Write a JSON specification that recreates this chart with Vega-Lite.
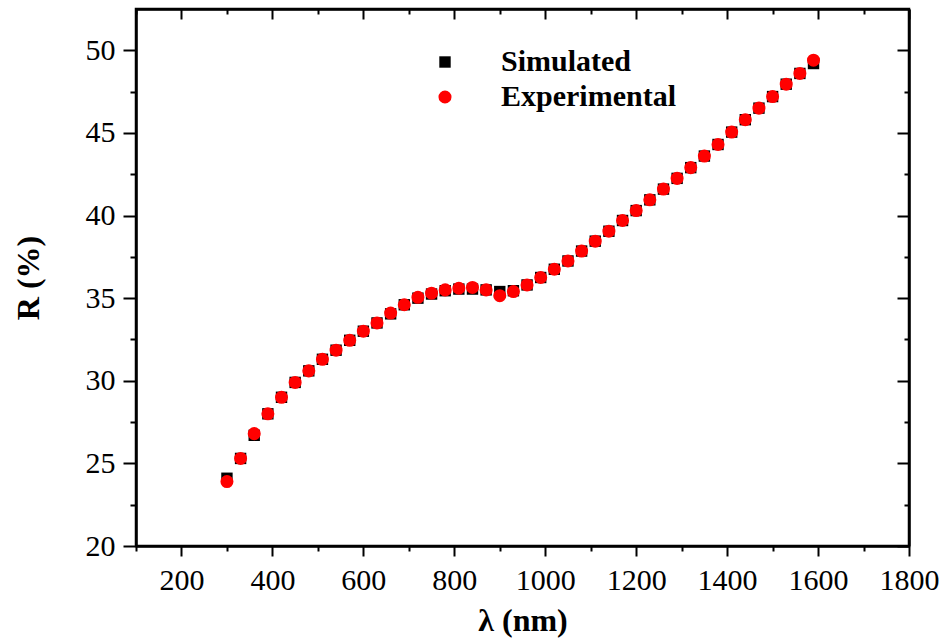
{
  "$schema": "https://vega.github.io/schema/vega-lite/v6.json",
  "width": 773,
  "height": 537,
  "autosize": {"type": "none"},
  "padding": {"left": 136, "top": 9, "right": 42, "bottom": 96},
  "background": "white",
  "config": {
    "view": {"stroke": "black", "strokeWidth": 2.5},
    "font": "Liberation Serif",
    "axis": {
      "domainColor": "black",
      "domainWidth": 2.5,
      "tickColor": "black",
      "tickWidth": 2,
      "labelColor": "black",
      "labelFont": "Liberation Serif",
      "labelFontSize": 30,
      "titleFont": "Liberation Serif",
      "titleFontWeight": "bold",
      "titleFontSize": 32,
      "titleColor": "black",
      "grid": false
    }
  },
  "data": {
    "values": [
      {"wl": 300, "R": 24.1, "series": "Simulated"},
      {"wl": 330, "R": 25.3, "series": "Simulated"},
      {"wl": 360, "R": 26.7, "series": "Simulated"},
      {"wl": 390, "R": 28.0, "series": "Simulated"},
      {"wl": 420, "R": 29.0, "series": "Simulated"},
      {"wl": 450, "R": 29.9, "series": "Simulated"},
      {"wl": 480, "R": 30.6, "series": "Simulated"},
      {"wl": 510, "R": 31.3, "series": "Simulated"},
      {"wl": 540, "R": 31.85, "series": "Simulated"},
      {"wl": 570, "R": 32.45, "series": "Simulated"},
      {"wl": 600, "R": 33.0, "series": "Simulated"},
      {"wl": 630, "R": 33.5, "series": "Simulated"},
      {"wl": 660, "R": 34.05, "series": "Simulated"},
      {"wl": 690, "R": 34.6, "series": "Simulated"},
      {"wl": 720, "R": 35.0, "series": "Simulated"},
      {"wl": 750, "R": 35.25, "series": "Simulated"},
      {"wl": 780, "R": 35.45, "series": "Simulated"},
      {"wl": 810, "R": 35.55, "series": "Simulated"},
      {"wl": 840, "R": 35.55, "series": "Simulated"},
      {"wl": 870, "R": 35.5, "series": "Simulated"},
      {"wl": 900, "R": 35.4, "series": "Simulated"},
      {"wl": 930, "R": 35.45, "series": "Simulated"},
      {"wl": 960, "R": 35.8, "series": "Simulated"},
      {"wl": 990, "R": 36.25, "series": "Simulated"},
      {"wl": 1020, "R": 36.75, "series": "Simulated"},
      {"wl": 1050, "R": 37.25, "series": "Simulated"},
      {"wl": 1080, "R": 37.85, "series": "Simulated"},
      {"wl": 1110, "R": 38.45, "series": "Simulated"},
      {"wl": 1140, "R": 39.05, "series": "Simulated"},
      {"wl": 1170, "R": 39.7, "series": "Simulated"},
      {"wl": 1200, "R": 40.3, "series": "Simulated"},
      {"wl": 1230, "R": 40.95, "series": "Simulated"},
      {"wl": 1260, "R": 41.6, "series": "Simulated"},
      {"wl": 1290, "R": 42.25, "series": "Simulated"},
      {"wl": 1320, "R": 42.9, "series": "Simulated"},
      {"wl": 1350, "R": 43.6, "series": "Simulated"},
      {"wl": 1380, "R": 44.3, "series": "Simulated"},
      {"wl": 1410, "R": 45.05, "series": "Simulated"},
      {"wl": 1440, "R": 45.8, "series": "Simulated"},
      {"wl": 1470, "R": 46.5, "series": "Simulated"},
      {"wl": 1500, "R": 47.2, "series": "Simulated"},
      {"wl": 1530, "R": 47.95, "series": "Simulated"},
      {"wl": 1560, "R": 48.6, "series": "Simulated"},
      {"wl": 1590, "R": 49.2, "series": "Simulated"},
      {"wl": 300, "R": 23.9, "series": "Experimental"},
      {"wl": 330, "R": 25.3, "series": "Experimental"},
      {"wl": 360, "R": 26.8, "series": "Experimental"},
      {"wl": 390, "R": 28.0, "series": "Experimental"},
      {"wl": 420, "R": 29.0, "series": "Experimental"},
      {"wl": 450, "R": 29.9, "series": "Experimental"},
      {"wl": 480, "R": 30.6, "series": "Experimental"},
      {"wl": 510, "R": 31.3, "series": "Experimental"},
      {"wl": 540, "R": 31.85, "series": "Experimental"},
      {"wl": 570, "R": 32.45, "series": "Experimental"},
      {"wl": 600, "R": 33.0, "series": "Experimental"},
      {"wl": 630, "R": 33.5, "series": "Experimental"},
      {"wl": 660, "R": 34.1, "series": "Experimental"},
      {"wl": 690, "R": 34.6, "series": "Experimental"},
      {"wl": 720, "R": 35.05, "series": "Experimental"},
      {"wl": 750, "R": 35.3, "series": "Experimental"},
      {"wl": 780, "R": 35.5, "series": "Experimental"},
      {"wl": 810, "R": 35.6, "series": "Experimental"},
      {"wl": 840, "R": 35.65, "series": "Experimental"},
      {"wl": 870, "R": 35.5, "series": "Experimental"},
      {"wl": 900, "R": 35.15, "series": "Experimental"},
      {"wl": 930, "R": 35.4, "series": "Experimental"},
      {"wl": 960, "R": 35.8, "series": "Experimental"},
      {"wl": 990, "R": 36.25, "series": "Experimental"},
      {"wl": 1020, "R": 36.75, "series": "Experimental"},
      {"wl": 1050, "R": 37.25, "series": "Experimental"},
      {"wl": 1080, "R": 37.85, "series": "Experimental"},
      {"wl": 1110, "R": 38.45, "series": "Experimental"},
      {"wl": 1140, "R": 39.05, "series": "Experimental"},
      {"wl": 1170, "R": 39.7, "series": "Experimental"},
      {"wl": 1200, "R": 40.3, "series": "Experimental"},
      {"wl": 1230, "R": 40.95, "series": "Experimental"},
      {"wl": 1260, "R": 41.6, "series": "Experimental"},
      {"wl": 1290, "R": 42.25, "series": "Experimental"},
      {"wl": 1320, "R": 42.9, "series": "Experimental"},
      {"wl": 1350, "R": 43.6, "series": "Experimental"},
      {"wl": 1380, "R": 44.3, "series": "Experimental"},
      {"wl": 1410, "R": 45.05, "series": "Experimental"},
      {"wl": 1440, "R": 45.8, "series": "Experimental"},
      {"wl": 1470, "R": 46.5, "series": "Experimental"},
      {"wl": 1500, "R": 47.2, "series": "Experimental"},
      {"wl": 1530, "R": 47.95, "series": "Experimental"},
      {"wl": 1560, "R": 48.6, "series": "Experimental"},
      {"wl": 1590, "R": 49.4, "series": "Experimental"}
    ]
  },
  "layer": [
    {
      "mark": {"type": "point", "filled": true, "opacity": 1, "strokeWidth": 0},
      "encoding": {
        "x": {
          "field": "wl", "type": "quantitative",
          "scale": {"domain": [100, 1800], "nice": false, "zero": false},
          "axis": {
            "orient": "bottom",
            "title": "λ (nm)",
            "values": [100,200,300,400,500,600,700,800,900,1000,1100,1200,1300,1400,1500,1600,1700,1800],
            "labelExpr": "datum.value % 200 === 0 ? datum.label : ''",
            "format": "d",
            "tickSize": {"condition": {"test": "datum.value % 200 === 0", "value": 10}, "value": 5},
            "labelPadding": 9,
            "labelFlush": false,
            "labelOverlap": false,
            "titlePadding": 10
          }
        },
        "y": {
          "field": "R", "type": "quantitative",
          "scale": {"domain": [20, 52.5], "nice": false, "zero": false},
          "axis": {
            "orient": "left",
            "title": "R (%)",
            "values": [20,22.5,25,27.5,30,32.5,35,37.5,40,42.5,45,47.5,50],
            "labelExpr": "datum.value % 5 === 0 ? datum.label : ''",
            "tickSize": {"condition": {"test": "datum.value % 5 === 0", "value": 13}, "value": 6},
            "labelPadding": 8,
            "labelFlush": false,
            "labelOverlap": false,
            "titlePadding": 40
          }
        },
        "color": {
          "field": "series", "type": "nominal",
          "scale": {"domain": ["Simulated", "Experimental"], "range": ["black", "#ff0000"]},
          "legend": {
            "title": null,
            "orient": "none",
            "legendX": 294,
            "legendY": 38,
            "padding": 0,
            "rowPadding": 5,
            "labelFont": "Liberation Serif",
            "labelFontWeight": "bold",
            "labelFontSize": 30,
            "labelColor": "black",
            "labelOffset": 41,
            "symbolSize": 150,
            "symbolStrokeWidth": 0,
            "labelLimit": 400
          }
        },
        "shape": {
          "field": "series", "type": "nominal",
          "scale": {"domain": ["Simulated", "Experimental"], "range": ["square", "circle"]},
          "legend": null
        },
        "size": {
          "field": "series", "type": "nominal",
          "scale": {"domain": ["Simulated", "Experimental"], "range": [130, 170]},
          "legend": null
        }
      }
    },
    {
      "mark": {"type": "point", "opacity": 0},
      "encoding": {
        "x": {
          "field": "wl", "type": "quantitative",
          "axis": {
            "orient": "top",
            "title": null,
            "labels": false,
            "values": [100,200,300,400,500,600,700,800,900,1000,1100,1200,1300,1400,1500,1600,1700,1800],
            "tickSize": {"condition": {"test": "datum.value % 200 === 0", "value": -10}, "value": -5}
          }
        },
        "y": {
          "field": "R", "type": "quantitative",
          "axis": {
            "orient": "right",
            "title": null,
            "labels": false,
            "values": [20,22.5,25,27.5,30,32.5,35,37.5,40,42.5,45,47.5,50],
            "tickSize": {"condition": {"test": "datum.value % 5 === 0", "value": -12}, "value": -5}
          }
        }
      }
    }
  ],
  "resolve": {"axis": {"x": "independent", "y": "independent"}}
}
